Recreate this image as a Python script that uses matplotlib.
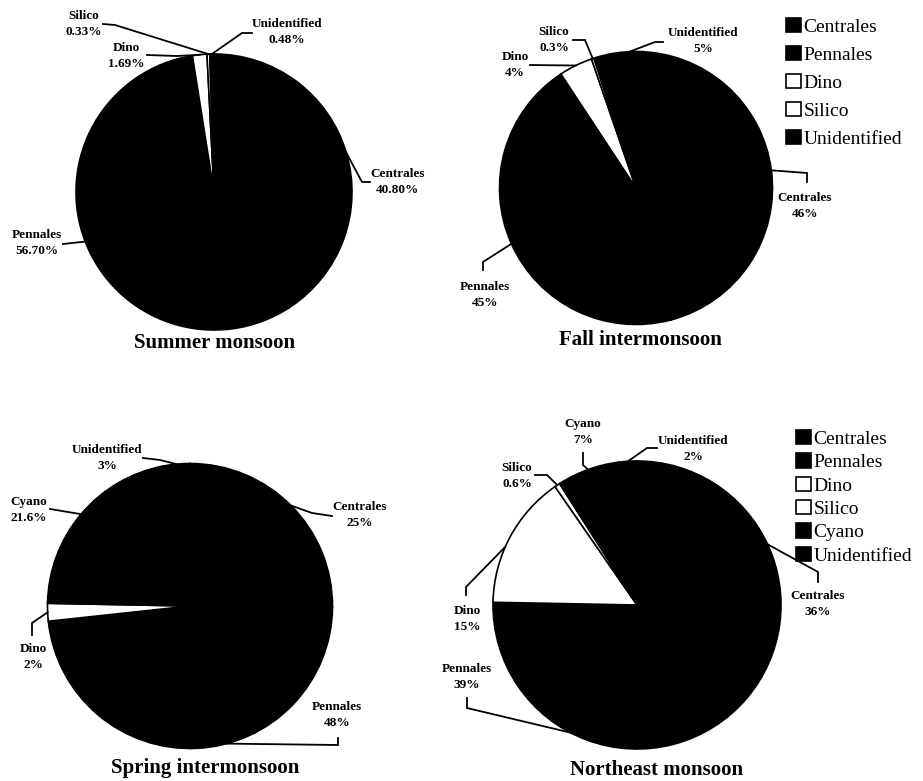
import numpy as np
import matplotlib
matplotlib.use("Agg")
import matplotlib.pyplot as plt

plt.rcParams['font.family'] = ['Liberation Serif', 'DejaVu Serif']

W, H = 923, 781

# ---- data (percent of total phytoplankton) ----
summer_names = ["Centrales", "Pennales", "Dino", "Silico", "Unidentified"]
summer_values = [40.80, 56.70, 1.69, 0.33, 0.48]
summer_pct = ["40.80%", "56.70%", "1.69%", "0.33%", "0.48%"]

fall_names = ["Centrales", "Pennales", "Dino", "Silico", "Unidentified"]
fall_values = [46, 45, 4, 0.3, 5]
fall_pct = ["46%", "45%", "4%", "0.3%", "5%"]

spring_names = ["Centrales", "Pennales", "Dino", "Cyano", "Unidentified"]
spring_values = [25, 48, 2, 21.6, 3]
spring_pct = ["25%", "48%", "2%", "21.6%", "3%"]

ne_names = ["Centrales", "Pennales", "Dino", "Silico", "Cyano", "Unidentified"]
ne_values = [36, 39, 15, 0.6, 7, 2]
ne_pct = ["36%", "39%", "15%", "0.6%", "7%", "2%"]

WHITE = {"Dino", "Silico"}

# layout in pixels (y measured from top): text centre, leader path, where on the wedge
panels = [
    dict(title="Summer monsoon", names=summer_names, values=summer_values, pct=summer_pct,
         center=(214, 192), radius=138, title_xy=(215, 343),
         labels={
             "Centrales": ((398, 182), [(370, 182), (362, 182)], 0.5),
             "Pennales": ((37, 243), [(63, 244)], 0.5),
             "Dino": ((126, 56), [(147, 55), (177, 56)], 0.5),
             "Silico": ((84, 24), [(103, 24), (115, 25)], 0.5),
             "Unidentified": ((287, 32), [(252, 33), (242, 33)], 0.5),
         }),
    dict(title="Fall intermonsoon", names=fall_names, values=fall_values, pct=fall_pct,
         center=(636, 188), radius=136.5, title_xy=(640, 340),
         labels={
             "Centrales": ((805, 206), [(807, 182), (807, 173)], 0.5),
             "Pennales": ((485, 295), [(483, 270), (483, 262)], 0.5),
             "Dino": ((515, 65), [(530, 65)], 0.5),
             "Silico": ((554, 40), [(573, 40), (585, 40)], 0.5),
             "Unidentified": ((703, 41), [(663, 42), (655, 42)], 0.85),
         }),
    dict(title="Spring intermonsoon", names=spring_names, values=spring_values, pct=spring_pct,
         center=(190, 606), radius=142.5, title_xy=(205, 768),
         labels={
             "Centrales": ((360, 515), [(332, 516), (312, 513)], 0.5),
             "Pennales": ((337, 715), [(338, 738), (338, 745)], 0.43),
             "Dino": ((33, 657), [(32, 635), (32, 623)], 0.5),
             "Cyano": ((29, 510), [(50, 509)], 0.5),
             "Unidentified": ((107, 458), [(143, 458), (160, 460)], 0.5),
         }),
    dict(title="Northeast monsoon", names=ne_names, values=ne_values, pct=ne_pct,
         center=(637, 605), radius=144, title_xy=(657, 770),
         labels={
             "Centrales": ((818, 604), [(818, 582), (818, 572)], 0.5),
             "Pennales": ((467, 677), [(467, 698), (467, 708)], 0.55),
             "Dino": ((467, 619), [(466, 595), (466, 587)], 0.42),
             "Silico": ((517, 476), [(535, 475), (547, 475)], 0.5),
             "Cyano": ((583, 432), [(583, 453), (583, 465)], 0.5),
             "Unidentified": ((693, 449), [(657, 448), (647, 448)], 0.5),
         }),
]

fig = plt.figure(figsize=(W / 100, H / 100), dpi=100)
ax = fig.add_axes([0, 0, 1, 1])

all_wedges = []
for p in panels:
    cx, cy = p['center']
    cy = H - cy
    r = p['radius']
    colors = ['white' if n in WHITE else 'black' for n in p['names']]
    wedges, _ = ax.pie(p['values'], colors=colors, startangle=90, counterclock=False,
                       center=(cx, cy), radius=r,
                       wedgeprops=dict(edgecolor='black', linewidth=1.2))
    all_wedges.append(wedges)

    for w, name, pct in zip(wedges, p['names'], p['pct']):
        (tx, ty), path, frac = p['labels'][name]
        ang = np.deg2rad(w.theta2 - frac * (w.theta2 - w.theta1))
        ex, ey = cx + r * np.cos(ang), cy + r * np.sin(ang)
        xs = [q[0] for q in path] + [ex]
        ys = [H - q[1] for q in path] + [ey]
        ax.plot(xs, ys, color='black', lw=1.3, solid_joinstyle='miter')
        ax.text(tx, H - ty, f"{name}\n{pct}", ha='center', va='center',
                fontsize=9.5, fontweight='bold', linespacing=1.5)

    ax.text(p['title_xy'][0], H - p['title_xy'][1], p['title'], ha='center', va='center',
            fontsize=15, fontweight='bold')

ax.set_xlim(0, W)
ax.set_ylim(0, H)
ax.set_aspect('equal')
ax.axis('off')

fig.legend(all_wedges[1], fall_names, loc='upper left', bbox_to_anchor=(786 / W, 1 - 18 / H),
           frameon=False, fontsize=14, handlelength=0.75, handleheight=0.75,
           handletextpad=0.15, labelspacing=0.52, borderpad=0, borderaxespad=0)
fig.legend(all_wedges[3], ne_names, loc='upper left', bbox_to_anchor=(796 / W, 1 - 430 / H),
           frameon=False, fontsize=14, handlelength=0.75, handleheight=0.75,
           handletextpad=0.15, labelspacing=0.28, borderpad=0, borderaxespad=0)

fig.savefig("out.png", dpi=100)
